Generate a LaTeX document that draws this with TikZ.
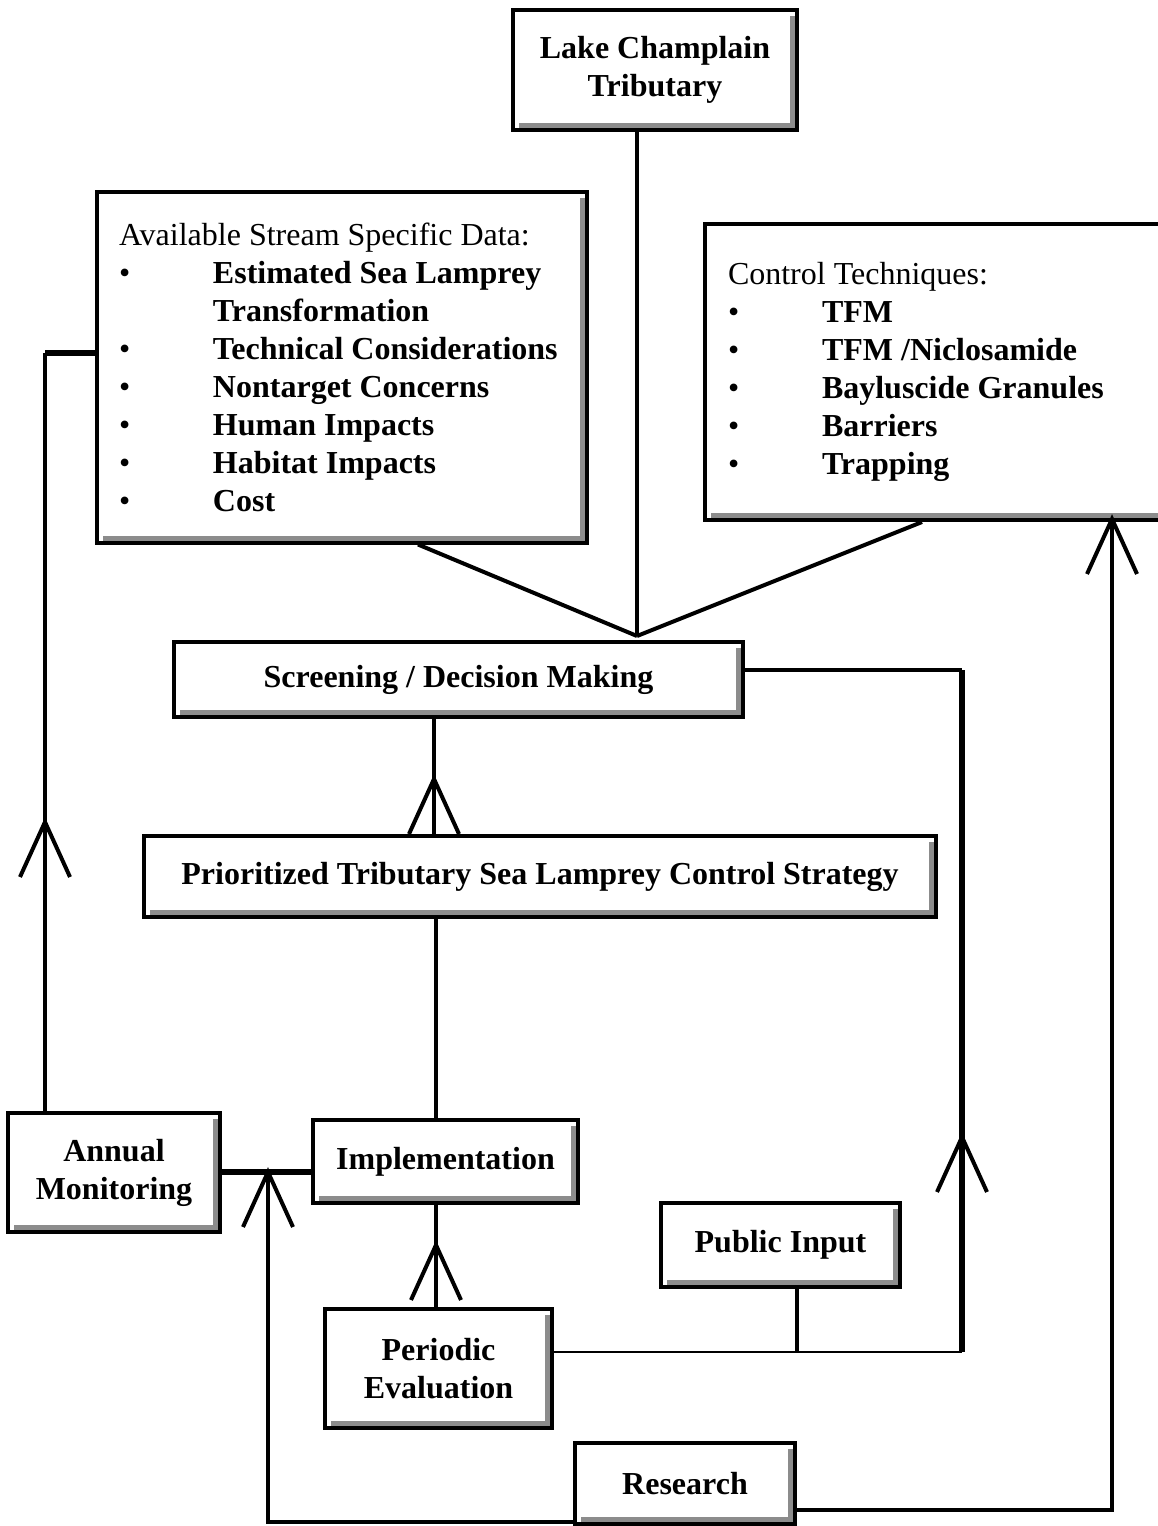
\documentclass[tikz,border=0pt]{standalone}
\usepackage{fontspec}
\setmainfont{Liberation Serif}
\usepackage{tikz}
\usetikzlibrary{calc}

\newcommand{\bulletrow}[1]{\makebox[47pt][l]{\textbullet}\textbf{#1}}

\begin{document}
\begin{tikzpicture}[
x=0.5pt, y=-0.5pt,
box/.style={draw, line width=2pt, fill=white, align=center, inner sep=0pt,
  font=\fontsize{16pt}{19pt}\selectfont\bfseries,
  path picture={
    \fill[gray!90] ([shift={(-3.5pt,-3pt)}]path picture bounding box.north east) rectangle (path picture bounding box.south east);
    \fill[gray!90] ([shift={(3pt,3.5pt)}]path picture bounding box.south west) rectangle (path picture bounding box.south east);}},
listbox/.style={box, align=flush left, font=\fontsize{16pt}{19pt}\selectfont},
link/.style={line width=2pt},
heavy/.style={line width=3pt},
thinlink/.style={line width=1pt},
vhead/.pic={\draw[line width=2pt] (-25,55) -- (0,0) -- (25,55);}
]
\useasboundingbox (0,0) rectangle (1157,1526);

\node[box, minimum width=142pt, minimum height=60pt] (lake) at (655,70) {Lake Champlain\\Tributary};
\node[listbox, minimum height=175.5pt, inner xsep=11pt, text width=223pt] (data) at (342,367)
  {Available Stream Specific Data:\\
   \bulletrow{Estimated Sea Lamprey}\\
   \hspace*{47pt}\textbf{Transformation}\\
   \bulletrow{Technical Considerations}\\
   \bulletrow{Nontarget Concerns}\\
   \bulletrow{Human Impacts}\\
   \bulletrow{Habitat Impacts}\\
   \bulletrow{Cost}};
\node[listbox, minimum height=148pt, inner xsep=11.5pt, text width=212pt] (ctrl) at (940,372)
  {Control Techniques:\\
   \bulletrow{TFM}\\
   \bulletrow{TFM /Niclosamide}\\
   \bulletrow{Bayluscide Granules}\\
   \bulletrow{Barriers}\\
   \bulletrow{Trapping}\\[6pt]};
\node[box, minimum width=284.5pt, minimum height=37.5pt] (screen) at (458.5,679.5) {Screening / Decision Making};
\node[box, minimum width=396pt, minimum height=40.5pt] (prio) at (540,876.5) {Prioritized Tributary Sea Lamprey Control Strategy};
\node[box, minimum width=106pt, minimum height=59.5pt] (annual) at (114,1172.5) {Annual\\Monitoring};
\node[box, minimum width=132.5pt, minimum height=41.5pt] (impl) at (445.5,1161.5) {Implementation};
\node[box, minimum width=119.5pt, minimum height=42pt] (pub) at (780.5,1245) {Public Input};
\node[box, minimum width=113.5pt, minimum height=59.5pt] (peri) at (438.5,1368.5) {Periodic\\Evaluation};
\node[box, minimum width=110pt, minimum height=40.5pt] (research) at (685,1483.5) {Research};

\coordinate (meet) at (637,636);
\coordinate (rt) at (962,670);
\coordinate (rb) at (962,1352);
\coordinate (sp) at (434,779);
\coordinate (ip) at (436,1245);
\coordinate (am) at (268,1172);
\coordinate (lb) at (268,1522);
\coordinate (lt) at (45,353);
\coordinate (la) at (45,822);
\coordinate (rr) at (1112,1510);
\coordinate (ra) at (1112,519);
\coordinate (rv) at (962,1137);

\draw[link] (lake.south -| meet) -- (meet);
\draw[link] ([xshift=38pt]data.south) -- (meet);
\draw[link] ([xshift=-9pt]ctrl.south) -- (meet);
\draw[link] (screen.east |- rt) -- (rt);
\draw[heavy] (rt) -- (rb);
\draw[thinlink] (peri.east |- rb) -- (rb);
\draw[link] ([xshift=8pt]pub.south) -- ([xshift=8pt]pub.south |- rb);
\draw[link] (screen.south -| sp) -- (prio.north -| sp);
\draw[link] (prio.south -| ip) -- (impl.north -| ip);
\draw[link] (impl.south -| ip) -- (peri.north -| ip);
\draw[heavy] (annual.east |- am) -- (impl.west |- am);
\draw[link] (am) -- (lb) -- (lb -| research.west);
\draw[link] (annual.north -| lt) -- (lt);
\draw[heavy] (lt) -- (lt -| data.west);
\draw[link] (research.east |- rr) -- (rr) -- (ctrl.south -| rr);

\pic at (sp) {vhead};
\pic at (ip) {vhead};
\pic at (am) {vhead};
\pic at (la) {vhead};
\pic at (rv) {vhead};
\pic at (ra) {vhead};
\end{tikzpicture}
\end{document}
